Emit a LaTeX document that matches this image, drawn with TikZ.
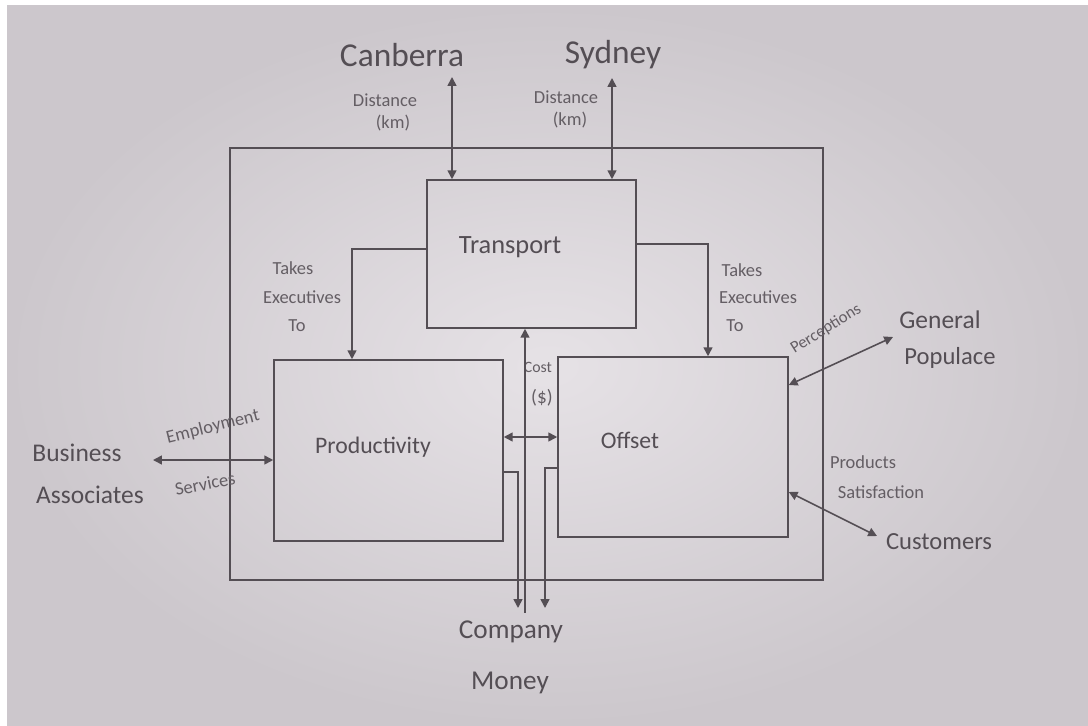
\documentclass[tikz,border=0pt]{standalone}
\usepackage{fontspec}
\setmainfont{Carlito}
\usetikzlibrary{arrows.meta}
\definecolor{ink}{RGB}{84,78,84}
\definecolor{pencil}{RGB}{100,94,100}
\definecolor{paperA}{RGB}{230,226,230}
\definecolor{paperB}{RGB}{204,199,204}
\begin{document}
\begin{tikzpicture}[x=0.02cm,y=-0.02cm,
  box/.style={draw=ink,line width=0.9pt,inner sep=0pt,rectangle},
  tip/.tip={Triangle[length=5pt,width=5pt]},
  arr/.style={draw=ink,line width=0.9pt,-tip},
  rarr/.style={draw=ink,line width=0.9pt,tip-},
  darr/.style={draw=ink,line width=0.9pt,tip-tip},
  lbl/.style={text=ink,font=\fontsize{#1}{#1}\selectfont,inner sep=1pt},
  sml/.style={text=pencil,font=\fontsize{#1}{#1}\selectfont,inner sep=1pt}]

\useasboundingbox (0,0) rectangle (1088,726);
\fill[white] (0,0) rectangle (1088,726);
\shade[inner color=paperA,outer color=paperB] (7,6) rectangle (1088,726);

% boxes
\node[box,minimum width=11.86cm,minimum height=8.64cm] (frame) at (526.5,364) {};
\node[box,minimum width=4.18cm,minimum height=2.96cm] (transport) at (531.5,254) {};
\node[box,minimum width=4.58cm,minimum height=3.62cm] (productivity) at (388.5,450.5) {};
\node[box,minimum width=4.6cm,minimum height=3.6cm] (offset) at (673,447) {};

% labels
\node[lbl=19] (canberra) at (402,55) {Canberra};
\node[lbl=19] (sydney) at (613,55) {Sydney};
\node[sml=10.5] (dist1) at (385,100) {Distance};
\node[sml=10.5] (km1) at (393,123) {(km)};
\node[sml=10.5] (dist2) at (566,97) {Distance};
\node[sml=10.5] (km2) at (570,120) {(km)};
\node[lbl=15] (transportlbl) at (510,247) {Transport};
\node[sml=10.5] (takes1) at (293,268) {Takes};
\node[sml=10.5] (exec1) at (302,297) {Executives};
\node[sml=10.5] (to1) at (297,326) {To};
\node[sml=10.5] (takes2) at (742,270) {Takes};
\node[sml=10.5] (exec2) at (758,297) {Executives};
\node[sml=10.5] (to2) at (735,326) {To};
\node[lbl=13.5] (productivitylbl) at (373,447) {Productivity};
\node[lbl=13.5] (offsetlbl) at (630,440) {Offset};
\node[sml=9] (cost) at (538,367) {Cost};
\node[sml=11] (dollar) at (542,398) {(\$)};
\node[lbl=14.5] (business) at (77,453) {Business};
\node[lbl=14.5] (associates) at (90,495) {Associates};
\node[sml=10.5,rotate=14] (employment) at (213,427) {Employment};
\node[sml=10.5,rotate=11] (services) at (205,484) {Services};
\node[lbl=14.5] (general) at (940,320) {General};
\node[lbl=14] (populace) at (950,358) {Populace};
\node[sml=9.5,rotate=32] (perceptions) at (826,329) {Perceptions};
\node[sml=10.5] (products) at (863,462) {Products};
\node[sml=10.5] (satisfaction) at (881,492) {Satisfaction};
\node[lbl=14] (customers) at (939,542) {Customers};
\node[lbl=15.5] (company) at (511,632) {Company};
\node[lbl=15.5] (money) at (510,683) {Money};

% connectors
\coordinate (ca) at (452,77);
\draw[darr] (ca) -- (ca |- transport.north);
\coordinate (sa) at (612,78);
\draw[darr] (sa) -- (sa |- transport.north);
\coordinate (lc) at (352,249);
\draw[arr] (lc -| transport.west) -- (lc) -- (lc |- productivity.north);
\coordinate (rc) at (708,244);
\draw[arr] (rc -| transport.east) -- (rc) -- (rc |- offset.north);
\coordinate (costc) at (525,613);
\draw[rarr] (costc |- transport.south) -- (costc);
\coordinate (po) at (0,437);
\draw[darr] (po -| productivity.east) -- (po -| offset.west);
\coordinate (pm) at (518,472);
\coordinate (pmend) at (518,608);
\draw[arr] (pm -| productivity.east) -- (pm) -- (pmend);
\coordinate (om) at (545,468);
\coordinate (omend) at (545,608);
\draw[arr] (om -| offset.west) -- (om) -- (omend);
\coordinate (ba) at (153,460);
\draw[darr] (ba) -- (ba -| productivity.west);
\coordinate (gpo) at (0,385);
\coordinate (gp) at (893,337);
\draw[darr] (gpo -| offset.east) -- (gp);
\coordinate (cuo) at (0,492);
\coordinate (cu) at (877,536);
\draw[darr] (cuo -| offset.east) -- (cu);
\end{tikzpicture}
\end{document}
